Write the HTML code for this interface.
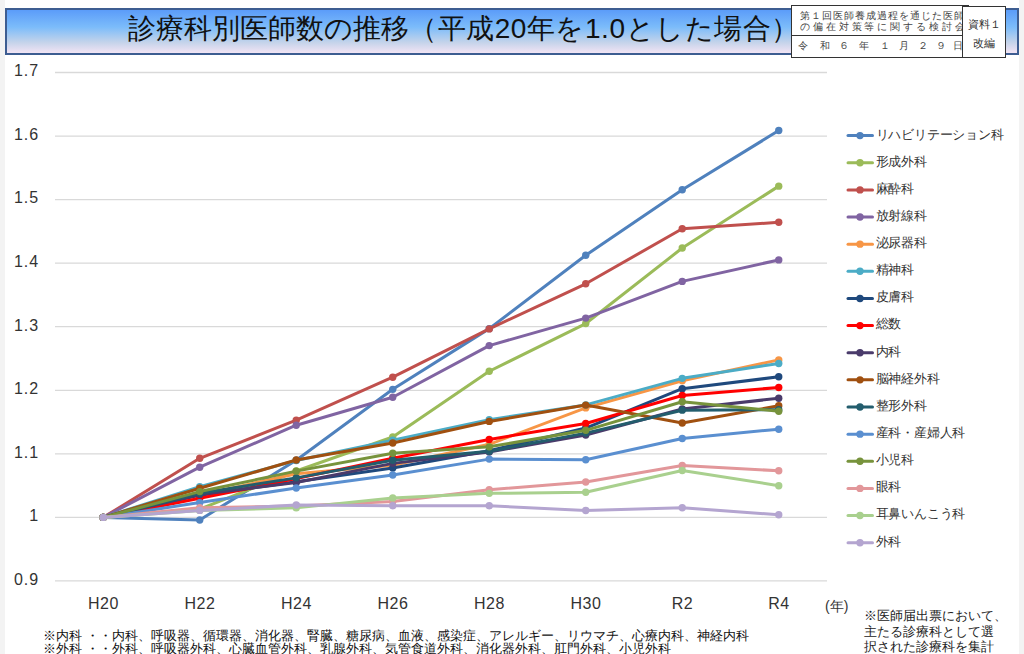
<!DOCTYPE html>
<html><head><meta charset="utf-8">
<style>
html,body{margin:0;padding:0;}
body{width:1024px;height:654px;overflow:hidden;background:#fff;position:relative;font-family:"Liberation Sans",sans-serif;}
.strip{position:absolute;top:0;height:654px;background:#f3f3f3;}
#hdr{position:absolute;left:5px;top:8px;width:1010px;height:43px;border:2px solid #3d5d91;
 background:linear-gradient(to bottom,#5b9cf9 0%,#7cbcfa 40%,#c4d3ea 75%,#f2e4f4 100%);}
#title{position:absolute;left:128px;top:9px;font-size:28px;line-height:40px;color:#111;white-space:nowrap;letter-spacing:0px;}
#info{position:absolute;left:791px;top:5px;width:176px;height:51px;border:1.5px solid #333;background:#fff;}
#info .l1{position:absolute;left:8px;top:4px;font-size:9.5px;line-height:11px;color:#444;white-space:nowrap;letter-spacing:1px;}
#info .div{position:absolute;left:0;top:29px;width:176px;height:0;border-top:1.5px solid #333;}
#info .l3{position:absolute;left:8px;top:34px;font-size:9.5px;line-height:12px;color:#444;white-space:nowrap;letter-spacing:0px;}
#shiryo{position:absolute;left:962px;top:6px;width:42px;height:50px;border:1.5px solid #333;background:#fff;font-size:11px;color:#333;text-align:center;line-height:20px;}
svg{position:absolute;left:0;top:0;}
.ax{font-family:"Liberation Sans",sans-serif;font-size:16px;fill:#333;}
.lg{font-family:"Liberation Sans",sans-serif;font-size:13px;fill:#333;}
#nen{position:absolute;left:825px;top:598px;font-size:14px;color:#333;}
#note{position:absolute;left:864px;top:608.3px;font-size:13px;line-height:15.5px;color:#222;white-space:nowrap;}
.gap{display:inline-block;width:4px;}
#foot{position:absolute;left:43px;top:629.5px;font-size:12.5px;line-height:13px;color:#111;white-space:nowrap;}
</style></head><body>
<div class="strip" style="left:0;width:5px"></div>
<div class="strip" style="left:1019px;width:5px"></div>
<div id="hdr"></div>
<div id="title">診療科別医師数の推移<span style="letter-spacing:0.55px">（平成20年を1.0とした場合）</span></div>
<svg width="1024" height="654" viewBox="0 0 1024 654">
<line x1="55" y1="580.96" x2="827" y2="580.96" stroke="#d9d9d9" stroke-width="1.3"/>
<text x="39" y="584.76" text-anchor="end" class="ax" letter-spacing="0.9">0.9</text>
<line x1="55" y1="517.40" x2="827" y2="517.40" stroke="#d9d9d9" stroke-width="1.3"/>
<text x="39" y="521.20" text-anchor="end" class="ax" letter-spacing="0.9">1</text>
<line x1="55" y1="453.84" x2="827" y2="453.84" stroke="#d9d9d9" stroke-width="1.3"/>
<text x="39" y="457.64" text-anchor="end" class="ax" letter-spacing="0.9">1.1</text>
<line x1="55" y1="390.28" x2="827" y2="390.28" stroke="#d9d9d9" stroke-width="1.3"/>
<text x="39" y="394.08" text-anchor="end" class="ax" letter-spacing="0.9">1.2</text>
<line x1="55" y1="326.72" x2="827" y2="326.72" stroke="#d9d9d9" stroke-width="1.3"/>
<text x="39" y="330.52" text-anchor="end" class="ax" letter-spacing="0.9">1.3</text>
<line x1="55" y1="263.16" x2="827" y2="263.16" stroke="#d9d9d9" stroke-width="1.3"/>
<text x="39" y="266.96" text-anchor="end" class="ax" letter-spacing="0.9">1.4</text>
<line x1="55" y1="199.60" x2="827" y2="199.60" stroke="#d9d9d9" stroke-width="1.3"/>
<text x="39" y="203.40" text-anchor="end" class="ax" letter-spacing="0.9">1.5</text>
<line x1="55" y1="136.04" x2="827" y2="136.04" stroke="#d9d9d9" stroke-width="1.3"/>
<text x="39" y="139.84" text-anchor="end" class="ax" letter-spacing="0.9">1.6</text>
<line x1="55" y1="72.48" x2="827" y2="72.48" stroke="#d9d9d9" stroke-width="1.3"/>
<text x="39" y="76.28" text-anchor="end" class="ax" letter-spacing="0.9">1.7</text>
<text x="103.55" y="609" text-anchor="middle" class="ax" letter-spacing="0.6">H20</text>
<text x="200.05" y="609" text-anchor="middle" class="ax" letter-spacing="0.6">H22</text>
<text x="296.55" y="609" text-anchor="middle" class="ax" letter-spacing="0.6">H24</text>
<text x="393.05" y="609" text-anchor="middle" class="ax" letter-spacing="0.6">H26</text>
<text x="489.55" y="609" text-anchor="middle" class="ax" letter-spacing="0.6">H28</text>
<text x="586.05" y="609" text-anchor="middle" class="ax" letter-spacing="0.6">H30</text>
<text x="682.55" y="609" text-anchor="middle" class="ax" letter-spacing="0.6">R2</text>
<text x="779.05" y="609" text-anchor="middle" class="ax" letter-spacing="0.6">R4</text>
<polyline points="103.25,517.40 199.75,519.94 296.25,460.20 392.75,389.33 489.25,328.63 585.75,255.28 682.25,189.81 778.75,130.57" fill="none" stroke="#4F81BD" stroke-width="3" stroke-linejoin="round" stroke-linecap="round"/>
<circle cx="103.25" cy="517.40" r="3.7" fill="#4F81BD"/>
<circle cx="199.75" cy="519.94" r="3.7" fill="#4F81BD"/>
<circle cx="296.25" cy="460.20" r="3.7" fill="#4F81BD"/>
<circle cx="392.75" cy="389.33" r="3.7" fill="#4F81BD"/>
<circle cx="489.25" cy="328.63" r="3.7" fill="#4F81BD"/>
<circle cx="585.75" cy="255.28" r="3.7" fill="#4F81BD"/>
<circle cx="682.25" cy="189.81" r="3.7" fill="#4F81BD"/>
<circle cx="778.75" cy="130.57" r="3.7" fill="#4F81BD"/>
<polyline points="103.25,517.40 199.75,509.14 296.25,471.00 392.75,437.00 489.25,371.28 585.75,323.54 682.25,248.03 778.75,186.13" fill="none" stroke="#9BBB59" stroke-width="3" stroke-linejoin="round" stroke-linecap="round"/>
<circle cx="103.25" cy="517.40" r="3.7" fill="#9BBB59"/>
<circle cx="199.75" cy="509.14" r="3.7" fill="#9BBB59"/>
<circle cx="296.25" cy="471.00" r="3.7" fill="#9BBB59"/>
<circle cx="392.75" cy="437.00" r="3.7" fill="#9BBB59"/>
<circle cx="489.25" cy="371.28" r="3.7" fill="#9BBB59"/>
<circle cx="585.75" cy="323.54" r="3.7" fill="#9BBB59"/>
<circle cx="682.25" cy="248.03" r="3.7" fill="#9BBB59"/>
<circle cx="778.75" cy="186.13" r="3.7" fill="#9BBB59"/>
<polyline points="103.25,517.40 199.75,458.29 296.25,420.15 392.75,377.19 489.25,328.88 585.75,283.82 682.25,228.71 778.75,222.29" fill="none" stroke="#C0504D" stroke-width="3" stroke-linejoin="round" stroke-linecap="round"/>
<circle cx="103.25" cy="517.40" r="3.7" fill="#C0504D"/>
<circle cx="199.75" cy="458.29" r="3.7" fill="#C0504D"/>
<circle cx="296.25" cy="420.15" r="3.7" fill="#C0504D"/>
<circle cx="392.75" cy="377.19" r="3.7" fill="#C0504D"/>
<circle cx="489.25" cy="328.88" r="3.7" fill="#C0504D"/>
<circle cx="585.75" cy="283.82" r="3.7" fill="#C0504D"/>
<circle cx="682.25" cy="228.71" r="3.7" fill="#C0504D"/>
<circle cx="778.75" cy="222.29" r="3.7" fill="#C0504D"/>
<polyline points="103.25,517.40 199.75,467.19 296.25,425.24 392.75,397.27 489.25,345.60 585.75,318.08 682.25,281.40 778.75,259.92" fill="none" stroke="#8064A2" stroke-width="3" stroke-linejoin="round" stroke-linecap="round"/>
<circle cx="103.25" cy="517.40" r="3.7" fill="#8064A2"/>
<circle cx="199.75" cy="467.19" r="3.7" fill="#8064A2"/>
<circle cx="296.25" cy="425.24" r="3.7" fill="#8064A2"/>
<circle cx="392.75" cy="397.27" r="3.7" fill="#8064A2"/>
<circle cx="489.25" cy="345.60" r="3.7" fill="#8064A2"/>
<circle cx="585.75" cy="318.08" r="3.7" fill="#8064A2"/>
<circle cx="682.25" cy="281.40" r="3.7" fill="#8064A2"/>
<circle cx="778.75" cy="259.92" r="3.7" fill="#8064A2"/>
<polyline points="103.25,517.40 199.75,495.15 296.25,473.80 392.75,465.28 489.25,444.31 585.75,407.89 682.25,380.75 778.75,359.90" fill="none" stroke="#F79646" stroke-width="3" stroke-linejoin="round" stroke-linecap="round"/>
<circle cx="103.25" cy="517.40" r="3.7" fill="#F79646"/>
<circle cx="199.75" cy="495.15" r="3.7" fill="#F79646"/>
<circle cx="296.25" cy="473.80" r="3.7" fill="#F79646"/>
<circle cx="392.75" cy="465.28" r="3.7" fill="#F79646"/>
<circle cx="489.25" cy="444.31" r="3.7" fill="#F79646"/>
<circle cx="585.75" cy="407.89" r="3.7" fill="#F79646"/>
<circle cx="682.25" cy="380.75" r="3.7" fill="#F79646"/>
<circle cx="778.75" cy="359.90" r="3.7" fill="#F79646"/>
<polyline points="103.25,517.40 199.75,486.64 296.25,460.51 392.75,440.11 489.25,419.77 585.75,404.90 682.25,378.33 778.75,363.52" fill="none" stroke="#4BACC6" stroke-width="3" stroke-linejoin="round" stroke-linecap="round"/>
<circle cx="103.25" cy="517.40" r="3.7" fill="#4BACC6"/>
<circle cx="199.75" cy="486.64" r="3.7" fill="#4BACC6"/>
<circle cx="296.25" cy="460.51" r="3.7" fill="#4BACC6"/>
<circle cx="392.75" cy="440.11" r="3.7" fill="#4BACC6"/>
<circle cx="489.25" cy="419.77" r="3.7" fill="#4BACC6"/>
<circle cx="585.75" cy="404.90" r="3.7" fill="#4BACC6"/>
<circle cx="682.25" cy="378.33" r="3.7" fill="#4BACC6"/>
<circle cx="778.75" cy="363.52" r="3.7" fill="#4BACC6"/>
<polyline points="103.25,517.40 199.75,495.15 296.25,481.81 392.75,468.08 489.25,450.66 585.75,428.03 682.25,388.69 778.75,376.81" fill="none" stroke="#1F497D" stroke-width="3" stroke-linejoin="round" stroke-linecap="round"/>
<circle cx="103.25" cy="517.40" r="3.7" fill="#1F497D"/>
<circle cx="199.75" cy="495.15" r="3.7" fill="#1F497D"/>
<circle cx="296.25" cy="481.81" r="3.7" fill="#1F497D"/>
<circle cx="392.75" cy="468.08" r="3.7" fill="#1F497D"/>
<circle cx="489.25" cy="450.66" r="3.7" fill="#1F497D"/>
<circle cx="585.75" cy="428.03" r="3.7" fill="#1F497D"/>
<circle cx="682.25" cy="388.69" r="3.7" fill="#1F497D"/>
<circle cx="778.75" cy="376.81" r="3.7" fill="#1F497D"/>
<polyline points="103.25,517.40 199.75,498.33 296.25,478.63 392.75,458.29 489.25,439.41 585.75,423.52 682.25,395.49 778.75,387.48" fill="none" stroke="#FF0000" stroke-width="3" stroke-linejoin="round" stroke-linecap="round"/>
<circle cx="103.25" cy="517.40" r="3.7" fill="#FF0000"/>
<circle cx="199.75" cy="498.33" r="3.7" fill="#FF0000"/>
<circle cx="296.25" cy="478.63" r="3.7" fill="#FF0000"/>
<circle cx="392.75" cy="458.29" r="3.7" fill="#FF0000"/>
<circle cx="489.25" cy="439.41" r="3.7" fill="#FF0000"/>
<circle cx="585.75" cy="423.52" r="3.7" fill="#FF0000"/>
<circle cx="682.25" cy="395.49" r="3.7" fill="#FF0000"/>
<circle cx="778.75" cy="387.48" r="3.7" fill="#FF0000"/>
<polyline points="103.25,517.40 199.75,494.52 296.25,482.44 392.75,463.37 489.25,451.93 585.75,435.03 682.25,409.03 778.75,398.22" fill="none" stroke="#4A3B6B" stroke-width="3" stroke-linejoin="round" stroke-linecap="round"/>
<circle cx="103.25" cy="517.40" r="3.7" fill="#4A3B6B"/>
<circle cx="199.75" cy="494.52" r="3.7" fill="#4A3B6B"/>
<circle cx="296.25" cy="482.44" r="3.7" fill="#4A3B6B"/>
<circle cx="392.75" cy="463.37" r="3.7" fill="#4A3B6B"/>
<circle cx="489.25" cy="451.93" r="3.7" fill="#4A3B6B"/>
<circle cx="585.75" cy="435.03" r="3.7" fill="#4A3B6B"/>
<circle cx="682.25" cy="409.03" r="3.7" fill="#4A3B6B"/>
<circle cx="778.75" cy="398.22" r="3.7" fill="#4A3B6B"/>
<polyline points="103.25,517.40 199.75,488.29 296.25,460.01 392.75,443.03 489.25,421.42 585.75,405.09 682.25,423.01 778.75,405.79" fill="none" stroke="#A05010" stroke-width="3" stroke-linejoin="round" stroke-linecap="round"/>
<circle cx="103.25" cy="517.40" r="3.7" fill="#A05010"/>
<circle cx="199.75" cy="488.29" r="3.7" fill="#A05010"/>
<circle cx="296.25" cy="460.01" r="3.7" fill="#A05010"/>
<circle cx="392.75" cy="443.03" r="3.7" fill="#A05010"/>
<circle cx="489.25" cy="421.42" r="3.7" fill="#A05010"/>
<circle cx="585.75" cy="405.09" r="3.7" fill="#A05010"/>
<circle cx="682.25" cy="423.01" r="3.7" fill="#A05010"/>
<circle cx="778.75" cy="405.79" r="3.7" fill="#A05010"/>
<polyline points="103.25,517.40 199.75,493.25 296.25,477.87 392.75,460.20 489.25,451.30 585.75,433.12 682.25,410.17 778.75,409.73" fill="none" stroke="#235D6D" stroke-width="3" stroke-linejoin="round" stroke-linecap="round"/>
<circle cx="103.25" cy="517.40" r="3.7" fill="#235D6D"/>
<circle cx="199.75" cy="493.25" r="3.7" fill="#235D6D"/>
<circle cx="296.25" cy="477.87" r="3.7" fill="#235D6D"/>
<circle cx="392.75" cy="460.20" r="3.7" fill="#235D6D"/>
<circle cx="489.25" cy="451.30" r="3.7" fill="#235D6D"/>
<circle cx="585.75" cy="433.12" r="3.7" fill="#235D6D"/>
<circle cx="682.25" cy="410.17" r="3.7" fill="#235D6D"/>
<circle cx="778.75" cy="409.73" r="3.7" fill="#235D6D"/>
<polyline points="103.25,517.40 199.75,502.59 296.25,487.97 392.75,475.01 489.25,459.12 585.75,459.69 682.25,438.52 778.75,429.18" fill="none" stroke="#5A8FD0" stroke-width="3" stroke-linejoin="round" stroke-linecap="round"/>
<circle cx="103.25" cy="517.40" r="3.7" fill="#5A8FD0"/>
<circle cx="199.75" cy="502.59" r="3.7" fill="#5A8FD0"/>
<circle cx="296.25" cy="487.97" r="3.7" fill="#5A8FD0"/>
<circle cx="392.75" cy="475.01" r="3.7" fill="#5A8FD0"/>
<circle cx="489.25" cy="459.12" r="3.7" fill="#5A8FD0"/>
<circle cx="585.75" cy="459.69" r="3.7" fill="#5A8FD0"/>
<circle cx="682.25" cy="438.52" r="3.7" fill="#5A8FD0"/>
<circle cx="778.75" cy="429.18" r="3.7" fill="#5A8FD0"/>
<polyline points="103.25,517.40 199.75,491.59 296.25,471.13 392.75,453.20 489.25,446.85 585.75,430.32 682.25,401.72 778.75,411.25" fill="none" stroke="#77933C" stroke-width="3" stroke-linejoin="round" stroke-linecap="round"/>
<circle cx="103.25" cy="517.40" r="3.7" fill="#77933C"/>
<circle cx="199.75" cy="491.59" r="3.7" fill="#77933C"/>
<circle cx="296.25" cy="471.13" r="3.7" fill="#77933C"/>
<circle cx="392.75" cy="453.20" r="3.7" fill="#77933C"/>
<circle cx="489.25" cy="446.85" r="3.7" fill="#77933C"/>
<circle cx="585.75" cy="430.32" r="3.7" fill="#77933C"/>
<circle cx="682.25" cy="401.72" r="3.7" fill="#77933C"/>
<circle cx="778.75" cy="411.25" r="3.7" fill="#77933C"/>
<polyline points="103.25,517.40 199.75,507.68 296.25,505.96 392.75,501.51 489.25,489.69 585.75,482.00 682.25,465.41 778.75,470.81" fill="none" stroke="#E2979A" stroke-width="3" stroke-linejoin="round" stroke-linecap="round"/>
<circle cx="103.25" cy="517.40" r="3.7" fill="#E2979A"/>
<circle cx="199.75" cy="507.68" r="3.7" fill="#E2979A"/>
<circle cx="296.25" cy="505.96" r="3.7" fill="#E2979A"/>
<circle cx="392.75" cy="501.51" r="3.7" fill="#E2979A"/>
<circle cx="489.25" cy="489.69" r="3.7" fill="#E2979A"/>
<circle cx="585.75" cy="482.00" r="3.7" fill="#E2979A"/>
<circle cx="682.25" cy="465.41" r="3.7" fill="#E2979A"/>
<circle cx="778.75" cy="470.81" r="3.7" fill="#E2979A"/>
<polyline points="103.25,517.40 199.75,510.41 296.25,507.87 392.75,497.89 489.25,493.37 585.75,492.29 682.25,470.43 778.75,485.68" fill="none" stroke="#A9D08E" stroke-width="3" stroke-linejoin="round" stroke-linecap="round"/>
<circle cx="103.25" cy="517.40" r="3.7" fill="#A9D08E"/>
<circle cx="199.75" cy="510.41" r="3.7" fill="#A9D08E"/>
<circle cx="296.25" cy="507.87" r="3.7" fill="#A9D08E"/>
<circle cx="392.75" cy="497.89" r="3.7" fill="#A9D08E"/>
<circle cx="489.25" cy="493.37" r="3.7" fill="#A9D08E"/>
<circle cx="585.75" cy="492.29" r="3.7" fill="#A9D08E"/>
<circle cx="682.25" cy="470.43" r="3.7" fill="#A9D08E"/>
<circle cx="778.75" cy="485.68" r="3.7" fill="#A9D08E"/>
<polyline points="103.25,517.40 199.75,510.41 296.25,505.01 392.75,505.70 489.25,505.77 585.75,510.47 682.25,507.68 778.75,514.79" fill="none" stroke="#B4A5D0" stroke-width="3" stroke-linejoin="round" stroke-linecap="round"/>
<circle cx="103.25" cy="517.40" r="3.7" fill="#B4A5D0"/>
<circle cx="199.75" cy="510.41" r="3.7" fill="#B4A5D0"/>
<circle cx="296.25" cy="505.01" r="3.7" fill="#B4A5D0"/>
<circle cx="392.75" cy="505.70" r="3.7" fill="#B4A5D0"/>
<circle cx="489.25" cy="505.77" r="3.7" fill="#B4A5D0"/>
<circle cx="585.75" cy="510.47" r="3.7" fill="#B4A5D0"/>
<circle cx="682.25" cy="507.68" r="3.7" fill="#B4A5D0"/>
<circle cx="778.75" cy="514.79" r="3.7" fill="#B4A5D0"/>
<line x1="848" y1="135.60" x2="872.5" y2="135.60" stroke="#4F81BD" stroke-width="3" stroke-linecap="round"/>
<circle cx="860" cy="135.60" r="3.7" fill="#4F81BD"/>
<text x="875.5" y="138.50" class="lg" letter-spacing="-0.2">リハビリテーション科</text>
<line x1="848" y1="162.74" x2="872.5" y2="162.74" stroke="#9BBB59" stroke-width="3" stroke-linecap="round"/>
<circle cx="860" cy="162.74" r="3.7" fill="#9BBB59"/>
<text x="875.5" y="165.64" class="lg" letter-spacing="-0.2">形成外科</text>
<line x1="848" y1="189.88" x2="872.5" y2="189.88" stroke="#C0504D" stroke-width="3" stroke-linecap="round"/>
<circle cx="860" cy="189.88" r="3.7" fill="#C0504D"/>
<text x="875.5" y="192.78" class="lg" letter-spacing="-0.2">麻酔科</text>
<line x1="848" y1="217.02" x2="872.5" y2="217.02" stroke="#8064A2" stroke-width="3" stroke-linecap="round"/>
<circle cx="860" cy="217.02" r="3.7" fill="#8064A2"/>
<text x="875.5" y="219.92" class="lg" letter-spacing="-0.2">放射線科</text>
<line x1="848" y1="244.16" x2="872.5" y2="244.16" stroke="#F79646" stroke-width="3" stroke-linecap="round"/>
<circle cx="860" cy="244.16" r="3.7" fill="#F79646"/>
<text x="875.5" y="247.06" class="lg" letter-spacing="-0.2">泌尿器科</text>
<line x1="848" y1="271.30" x2="872.5" y2="271.30" stroke="#4BACC6" stroke-width="3" stroke-linecap="round"/>
<circle cx="860" cy="271.30" r="3.7" fill="#4BACC6"/>
<text x="875.5" y="274.20" class="lg" letter-spacing="-0.2">精神科</text>
<line x1="848" y1="298.44" x2="872.5" y2="298.44" stroke="#1F497D" stroke-width="3" stroke-linecap="round"/>
<circle cx="860" cy="298.44" r="3.7" fill="#1F497D"/>
<text x="875.5" y="301.34" class="lg" letter-spacing="-0.2">皮膚科</text>
<line x1="848" y1="325.58" x2="872.5" y2="325.58" stroke="#FF0000" stroke-width="3" stroke-linecap="round"/>
<circle cx="860" cy="325.58" r="3.7" fill="#FF0000"/>
<text x="875.5" y="328.48" class="lg" letter-spacing="-0.2">総数</text>
<line x1="848" y1="352.72" x2="872.5" y2="352.72" stroke="#4A3B6B" stroke-width="3" stroke-linecap="round"/>
<circle cx="860" cy="352.72" r="3.7" fill="#4A3B6B"/>
<text x="875.5" y="355.62" class="lg" letter-spacing="-0.2">内科</text>
<line x1="848" y1="379.86" x2="872.5" y2="379.86" stroke="#A05010" stroke-width="3" stroke-linecap="round"/>
<circle cx="860" cy="379.86" r="3.7" fill="#A05010"/>
<text x="875.5" y="382.76" class="lg" letter-spacing="-0.2">脳神経外科</text>
<line x1="848" y1="407.00" x2="872.5" y2="407.00" stroke="#235D6D" stroke-width="3" stroke-linecap="round"/>
<circle cx="860" cy="407.00" r="3.7" fill="#235D6D"/>
<text x="875.5" y="409.90" class="lg" letter-spacing="-0.2">整形外科</text>
<line x1="848" y1="434.14" x2="872.5" y2="434.14" stroke="#5A8FD0" stroke-width="3" stroke-linecap="round"/>
<circle cx="860" cy="434.14" r="3.7" fill="#5A8FD0"/>
<text x="875.5" y="437.04" class="lg" letter-spacing="-0.2">産科・産婦人科</text>
<line x1="848" y1="461.28" x2="872.5" y2="461.28" stroke="#77933C" stroke-width="3" stroke-linecap="round"/>
<circle cx="860" cy="461.28" r="3.7" fill="#77933C"/>
<text x="875.5" y="464.18" class="lg" letter-spacing="-0.2">小児科</text>
<line x1="848" y1="488.42" x2="872.5" y2="488.42" stroke="#E2979A" stroke-width="3" stroke-linecap="round"/>
<circle cx="860" cy="488.42" r="3.7" fill="#E2979A"/>
<text x="875.5" y="491.32" class="lg" letter-spacing="-0.2">眼科</text>
<line x1="848" y1="515.56" x2="872.5" y2="515.56" stroke="#A9D08E" stroke-width="3" stroke-linecap="round"/>
<circle cx="860" cy="515.56" r="3.7" fill="#A9D08E"/>
<text x="875.5" y="518.46" class="lg" letter-spacing="-0.2">耳鼻いんこう科</text>
<line x1="848" y1="542.70" x2="872.5" y2="542.70" stroke="#B4A5D0" stroke-width="3" stroke-linecap="round"/>
<circle cx="860" cy="542.70" r="3.7" fill="#B4A5D0"/>
<text x="875.5" y="545.60" class="lg" letter-spacing="-0.2">外科</text>
</svg>
<div id="info">
 <div class="l1">第１回医師養成過程を通じた医師<br><span style="letter-spacing:2.9px">の偏在対策等に関する検討会</span></div>
 <div class="div"></div>
 <div class="l3"><span style="position:absolute;left:-2.3px;top:0;width:9.5px;text-align:center">令</span><span style="position:absolute;left:19.7px;top:0;width:9.5px;text-align:center">和</span><span style="position:absolute;left:38.7px;top:0;width:9.5px;text-align:center">６</span><span style="position:absolute;left:59.4px;top:0;width:9.5px;text-align:center">年</span><span style="position:absolute;left:79.5px;top:0;width:9.5px;text-align:center">１</span><span style="position:absolute;left:98.7px;top:0;width:9.5px;text-align:center">月</span><span style="position:absolute;left:117.7px;top:0;width:9.5px;text-align:center">２</span><span style="position:absolute;left:135.5px;top:0;width:9.5px;text-align:center">９</span><span style="position:absolute;left:152.7px;top:0;width:9.5px;text-align:center">日</span></div>
</div>
<div id="shiryo"><div style="position:absolute;left:0;top:7px;width:42px">資料１</div><div style="position:absolute;left:0;top:26px;width:42px">改編</div></div>
<div id="nen">(年)</div>
<div id="note">※医師届出票において、<br>主たる診療科として選<br>択された診療科を集計</div>
<div id="foot">※内科<span class="gap"></span>・・内科、呼吸器、循環器、消化器、腎臓、糖尿病、血液、感染症、アレルギー、リウマチ、心療内科、神経内科<br>※外科<span class="gap"></span>・・外科、呼吸器外科、心臓血管外科、乳腺外科、気管食道外科、消化器外科、肛門外科、小児外科</div>
</body></html>
